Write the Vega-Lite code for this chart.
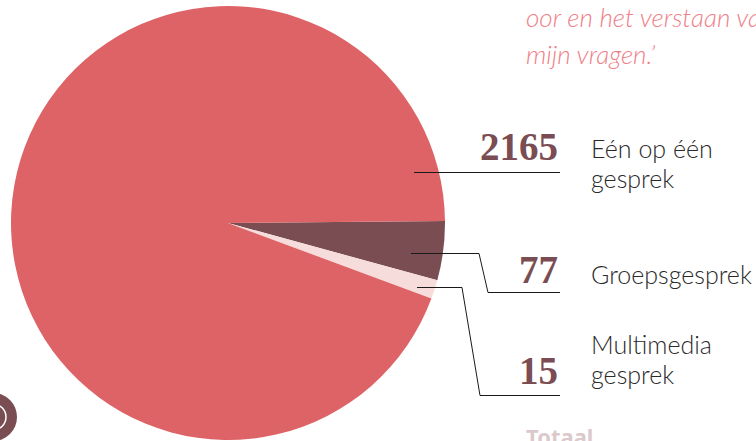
{"$schema":"https://vega.github.io/schema/vega-lite/v6.json","width":756,"height":441,"padding":0,"autosize":{"type":"none"},"background":"white","config":{"view":{"stroke":null}},
"datasets":{
"slices":[{"vorm":"Groepsgesprek","waarde":77,"boog":15.8,"volgorde":1},{"vorm":"Multimedia gesprek","waarde":15,"boog":5.1,"volgorde":2},{"vorm":"Eén op één gesprek","waarde":2165,"boog":339.1,"volgorde":3}],
"lijnen":[{"id":"a","stap":1,"px":414,"py":172.5},{"id":"a","stap":2,"px":560,"py":172.5},{"id":"b","stap":1,"px":411,"py":253.5},{"id":"b","stap":2,"px":479,"py":253.5},{"id":"b","stap":3,"px":488,"py":292.5},{"id":"b","stap":4,"px":560,"py":292.5},{"id":"c","stap":1,"px":417,"py":287.5},{"id":"c","stap":2,"px":462,"py":287.5},{"id":"c","stap":3,"px":480,"py":395.5},{"id":"c","stap":4,"px":560,"py":395.5}],
"getallen":[{"t":"2165","px":558,"py":160},{"t":"77","px":558,"py":283},{"t":"15","px":558,"py":384}],
"labels":[{"t":"Eén op één","px":591,"py":158},{"t":"gesprek","px":591,"py":188},{"t":"Groepsgesprek","px":591,"py":284},{"t":"Multimedia","px":591,"py":354},{"t":"gesprek","px":591,"py":384}],
"quote":[{"t":"oor en het verstaan van","px":526,"py":27},{"t":"mijn vragen.’","px":526,"py":64}],
"totaal":[{"t":"Totaal","px":526,"py":445}],
"badge":[{"px":-7,"py":417}]
},
"layer":[
{"data":{"name":"slices"},"mark":{"type":"arc","x":228,"y":223,"outerRadius":217},"encoding":{"theta":{"field":"boog","type":"quantitative","stack":true,"scale":{"domain":[0,360],"range":[1.562,7.845]}},"order":{"field":"volgorde","type":"ordinal"},"color":{"field":"vorm","type":"nominal","legend":null,"scale":{"domain":["Groepsgesprek","Multimedia gesprek","Eén op één gesprek"],"range":["#7a4d53","#f7dcdc","#de6367"]}}}},
{"data":{"name":"lijnen"},"mark":{"type":"line","stroke":"#1a1a1a","strokeWidth":1,"interpolate":"linear"},"encoding":{"x":{"field":"px","type":"quantitative","scale":{"domain":[0,756]},"axis":null},"y":{"field":"py","type":"quantitative","scale":{"domain":[0,441],"range":[0,441]},"axis":null},"detail":{"field":"id"},"order":{"field":"stap"}}},
{"data":{"name":"getallen"},"mark":{"type":"text","align":"right","baseline":"alphabetic","font":"Liberation Serif","fontWeight":"bold","fontSize":39,"color":"#7a4d53"},"encoding":{"x":{"field":"px","type":"quantitative","scale":{"domain":[0,756]},"axis":null},"y":{"field":"py","type":"quantitative","scale":{"domain":[0,441],"range":[0,441]},"axis":null},"text":{"field":"t"}}},
{"data":{"name":"labels"},"mark":{"type":"text","align":"left","baseline":"alphabetic","font":"Lato","fontWeight":300,"fontSize":25,"color":"#2a2a2a"},"encoding":{"x":{"field":"px","type":"quantitative","scale":{"domain":[0,756]},"axis":null},"y":{"field":"py","type":"quantitative","scale":{"domain":[0,441],"range":[0,441]},"axis":null},"text":{"field":"t"}}},
{"data":{"name":"quote"},"mark":{"type":"text","align":"left","baseline":"alphabetic","font":"Lato","fontWeight":300,"fontStyle":"italic","fontSize":26,"color":"#f08088"},"encoding":{"x":{"field":"px","type":"quantitative","scale":{"domain":[0,756]},"axis":null},"y":{"field":"py","type":"quantitative","scale":{"domain":[0,441],"range":[0,441]},"axis":null},"text":{"field":"t"}}},
{"data":{"name":"totaal"},"mark":{"type":"text","align":"left","baseline":"alphabetic","font":"Noto Sans","fontWeight":"bold","fontSize":22,"color":"#dcc9cc"},"encoding":{"x":{"field":"px","type":"quantitative","scale":{"domain":[0,756]},"axis":null},"y":{"field":"py","type":"quantitative","scale":{"domain":[0,441],"range":[0,441]},"axis":null},"text":{"field":"t"}}},
{"data":{"name":"badge"},"mark":{"type":"point","shape":"circle","filled":true,"size":2304,"color":"#7a4d53","opacity":1},"encoding":{"x":{"field":"px","type":"quantitative","scale":{"domain":[0,756]},"axis":null},"y":{"field":"py","type":"quantitative","scale":{"domain":[0,441],"range":[0,441]},"axis":null}}},
{"data":{"name":"badge"},"mark":{"type":"point","shape":"circle","filled":false,"size":676,"stroke":"white","strokeWidth":1.5,"opacity":1},"encoding":{"x":{"field":"px","type":"quantitative","scale":{"domain":[0,756]},"axis":null},"y":{"field":"py","type":"quantitative","scale":{"domain":[0,441],"range":[0,441]},"axis":null}}}
]}
